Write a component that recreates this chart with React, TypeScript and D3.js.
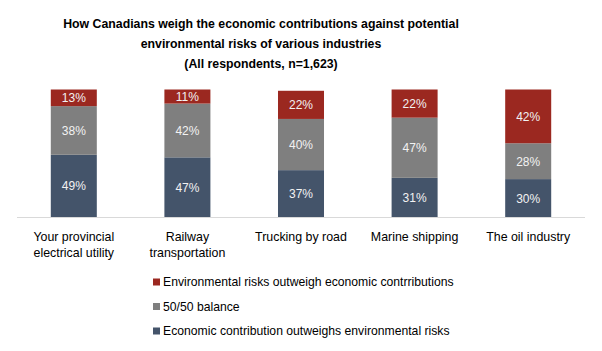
import React, { useEffect, useRef } from "react";
import * as d3 from "d3";

const categories = [
  "Your provincial|electrical utility",
  "Railway|transportation",
  "Trucking by road",
  "Marine shipping",
  "The oil industry",
];
const economicValues = [49, 47, 37, 31, 30];
const balanceValues = [38, 42, 40, 47, 28];
const riskValues = [13, 11, 22, 22, 42];

const seriesNames = [
  "Economic contribution outweighs environmental risks",
  "50/50 balance",
  "Environmental risks outweigh economic contrributions",
];
const seriesColors = ["#44546A", "#7F7F7F", "#9B2820"];
const titleLines = [
  "How Canadians weigh the economic contributions against potential",
  "environmental risks of various industries",
  "(All respondents, n=1,623)",
];

const W = 602;
const H = 351;
const FONT = "'Liberation Sans', Arial, sans-serif";

export default function App() {
  const ref = useRef<SVGSVGElement>(null);

  useEffect(() => {
    const svg = d3.select(ref.current);
    svg.selectAll("*").remove();

    const x = d3
      .scaleBand()
      .domain(categories)
      .range([17, 585])
      .paddingInner(0.595)
      .paddingOuter(0.2975);
    const y = d3.scaleLinear().domain([0, 100]).range([217.5, 89.5]);

    const rows = categories.map((c, i) => ({
      cat: c,
      s0: economicValues[i],
      s1: balanceValues[i],
      s2: riskValues[i],
    }));
    const stack = d3.stack<any>().keys(["s0", "s1", "s2"]);
    const series = stack(rows);

    // title
    svg
      .append("g")
      .selectAll("text")
      .data(titleLines)
      .join("text")
      .attr("x", 261)
      .attr("y", (d, i) => 27.5 + i * 20)
      .attr("text-anchor", "middle")
      .style("font-family", FONT)
      .style("font-weight", "bold")
      .style("font-size", "12.3px")
      .attr("fill", "#000")
      .text((d) => d);

    // bars
    const layers = svg
      .append("g")
      .selectAll("g")
      .data(series)
      .join("g")
      .attr("fill", (d, i) => seriesColors[i]);

    layers
      .selectAll("rect")
      .data((d) => d)
      .join("rect")
      .attr("x", (d: any) => x(d.data.cat)!)
      .attr("width", x.bandwidth())
      .attr("y", (d) => y(d[1]))
      .attr("height", (d) => y(d[0]) - y(d[1]));

    layers
      .selectAll("text")
      .data((d) => d)
      .join("text")
      .attr("x", (d: any) => x(d.data.cat)! + x.bandwidth() / 2)
      .attr("y", (d) => (y(d[0]) + y(d[1])) / 2)
      .attr("dy", "0.36em")
      .attr("text-anchor", "middle")
      .attr("fill", "#F2F2F2")
      .style("font-family", FONT)
      .style("font-size", "12px")
      .text((d) => `${d[1] - d[0]}%`);

    // axis line
    svg
      .append("line")
      .attr("x1", 17)
      .attr("x2", 585)
      .attr("y1", 217.5)
      .attr("y2", 217.5)
      .attr("stroke", "#D9D9D9")
      .attr("stroke-width", 1);

    // category labels
    const labels = svg
      .append("g")
      .selectAll("text")
      .data(categories)
      .join("text")
      .attr("x", (d) => x(d)! + x.bandwidth() / 2)
      .attr("text-anchor", "middle")
      .style("font-family", FONT)
      .style("font-size", "12.4px")
      .attr("fill", "#000");
    labels
      .selectAll("tspan")
      .data((d) => d.split("|"))
      .join("tspan")
      .attr("x", function () {
        return (this as any).parentNode.getAttribute("x");
      })
      .attr("y", (d, i) => 240.5 + i * 16.5)
      .text((d) => d);

    // legend
    const legendOrder = [2, 1, 0];
    const legend = svg
      .append("g")
      .selectAll("g")
      .data(legendOrder)
      .join("g")
      .attr("transform", (d, i) => `translate(153,${282 + i * 24.5})`);
    legend
      .append("rect")
      .attr("x", 0)
      .attr("y", -3.5)
      .attr("width", 7)
      .attr("height", 7)
      .attr("fill", (d) => seriesColors[d]);
    legend
      .append("text")
      .attr("x", 10)
      .attr("dy", "0.36em")
      .style("font-family", FONT)
      .style("font-size", "12.2px")
      .attr("fill", "#000")
      .text((d) => seriesNames[d]);
  }, []);

  return (
    <svg
      ref={ref}
      width={W}
      height={H}
      style={{ position: "absolute", left: 0, top: 0, background: "#fff" }}
    />
  );
}
